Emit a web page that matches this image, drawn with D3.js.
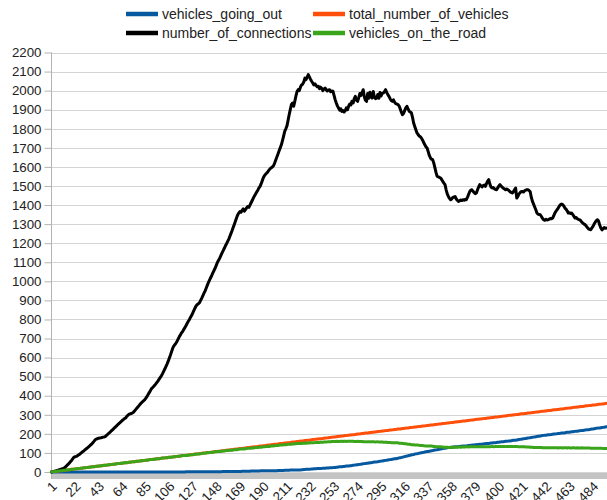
<!DOCTYPE html>
<html><head><meta charset="utf-8">
<script src="https://cdn.jsdelivr.net/npm/d3@7"></script>
<style>body{margin:0;background:#fff}svg{display:block;font-family:"Liberation Sans",Arial,sans-serif}</style>
</head><body><svg id="c" width="607" height="500"></svg>
<script>
const N = 496;
const categories = d3.range(1, N + 1);
const tickLabels = ["1","22","43","64","85","106","127","148","169","190","211","232","253","274","295","316","337","358","379","400","421","442","463","484"];
const yTicks = [0,100,200,300,400,500,600,700,800,900,1000,1100,1200,1300,1400,1500,1600,1700,1800,1900,2000,2100,2200];
const seriesNames = ["vehicles_going_out","total_number_of_vehicles","number_of_connections","vehicles_on_the_road"];
const seriesColors = ["#07599f","#ff4f0a","#000000","#3aa41a"];

const vehiclesGoingOut = [
0,0,0,0,0,0,0,0,0,0, 0,0,0,0,0,0,0,0,0,0, 0,0,0,0,0,0,0,0,0,0, 0,0,0,0,0,0,0,0,0,0,
0,0,0,0,0,0,0,0,0,0, 0,0,0,0,0,0,0,0,0,0, 0,0,0,0,0,0,0,0,0,0, 0,0,0,0,0,0,0,0,0,0,
0,0,0,0,0,0,0,0,0,0, 0,0,0,0,0,0,0,0,0,0, 0,0,0,0,0,0,0,0,0,0, 0,0,0,0,0,0,0,0,0,0,
1,1,1,1,1,1,1,1,1,1, 1,1,1,1,1,1,1,1,1,1, 1,1,1,1,1,1,1,1,1,1,
1,1,2,2,2,2,2,2,2,2, 2,3,3,3,3,3,3,3,3,3, 4,4,4,4,4,4,4,4,5,5, 5,5,5,5,5,5,6,6,6,6,
6,6,6,6,7,7,7,7,7,7, 7,7,8,8,8,8,8,8,9,9, 9,9,9,10,10,10,10,10,11,11, 11,11,11,12,12,13,13,14,14,15,
15,15,16,16,17,17,17,18,18,19, 19,19,20,20,20,21,21,21,22,22, 22,23,23,24,25,25,26,27,27,28,
29,29,30,31,31,32,33,33,34,35, 36,37,38,38,39,40,41,42,43,44, 45,46,46,47,48,49,50,51,52,53,
53,54,55,56,57,58,59,60,61,62, 63,64,65,66,67,68,69,70,71,72, 74,75,76,78,79,81,82,84,85,87,
88,90,91,92,94,95,96,97,99,100, 101,102,103,105,106,107,108,109,110,111, 112,114,115,116,117,118,119,120,122,123,
124,125,126,127,128,129,129,130,131,131, 132,132,133,133,134,135,135,136,136,137, 137,138,139,139,140,141,141,142,143,143,
144,144,145,146,146,147,148,148,149,150, 150,151,152,152,153,154,154,155,156,156, 157,158,158,159,160,161,161,162,163,163,
164,165,166,166,167,168,169,170,171,172, 173,174,175,176,177,178,179,180,181,182, 183,184,185,186,187,188,189,190,191,192,
193,193,194,195,196,196,197,198,199,199, 200,201,202,202,203,204,205,205,206,207, 208,208,209,210,211,211,212,213,214,214,
215,216,217,217,218,219,220,221,221,222, 223,224,225,226,227,228,229,230,231,231, 232,233,234,235,236,237
];

const totalNumberOfVehicles = [
1,1,2,3,4,4,5,6,7,7, 8,9,9,10,11,12,12,13,14,15, 15,16,17,17,18,19,20,20,21,22, 22,23,24,25,25,26,27,28,28,29,
30,30,31,32,33,33,34,35,36,36, 37,38,38,39,40,41,41,42,43,44, 44,45,46,46,47,48,49,49,50,51, 51,52,53,54,54,55,56,57,57,58,
59,59,60,61,62,62,63,64,65,65, 66,67,67,68,69,70,70,71,72,73, 73,74,75,75,76,77,78,78,79,80, 80,81,82,83,83,84,85,86,86,87,
88,88,89,90,91,91,92,93,94,94, 95,96,96,97,98,99,99,100,101,102, 102,103,104,104,105,106,107,107,108,109, 109,110,111,112,112,113,114,115,115,116,
117,117,118,119,120,120,121,122,123,123, 124,125,125,126,127,128,128,129,130,131, 131,132,133,133,134,135,136,136,137,138, 138,139,140,141,141,142,143,144,144,145,
146,146,147,148,149,149,150,151,152,152, 153,154,154,155,156,157,157,158,159,160, 160,161,162,162,163,164,165,165,166,167, 167,168,169,170,170,171,172,173,173,174,
175,175,176,177,178,178,179,180,181,181, 182,183,183,184,185,186,186,187,188,189, 189,190,191,191,192,193,194,194,195,196, 196,197,198,199,199,200,201,202,202,203,
204,204,205,206,207,207,208,209,210,210, 211,212,212,213,214,215,215,216,217,218, 218,219,220,220,221,222,223,223,224,225, 225,226,227,228,228,229,230,231,231,232,
233,233,234,235,236,236,237,238,239,239, 240,241,241,242,243,244,244,245,246,247, 247,248,249,249,250,251,252,252,253,254, 254,255,256,257,257,258,259,260,260,261,
262,262,263,264,265,265,266,267,268,268, 269,270,270,271,272,273,273,274,275,276, 276,277,278,278,279,280,281,281,282,283, 283,284,285,286,286,287,288,289,289,290,
291,291,292,293,294,294,295,296,297,297, 298,299,299,300,301,302,302,303,304,305, 305,306,307,307,308,309,310,310,311,312, 312,313,314,315,315,316,317,318,318,319,
320,320,321,322,323,323,324,325,326,326, 327,328,328,329,330,331,331,332,333,334, 334,335,336,336,337,338,339,339,340,341, 341,342,343,344,344,345,346,347,347,348,
349,349,350,351,352,352,353,354,355,355, 356,357,357,358,359,360
];

const numberOfConnections = [
0,2,3,5,6,8,10,12,14,16, 18,20,24,30,36,42,48,55,62,70,
78,80,82,85,89,93,98,103,108,112, 117,122,127,132,137,143,148,155,162,170,
172,176,177,178,179,181,183,184,186,192, 197,203,208,214,219,225,231,236,242,248,
253,259,264,270,275,280,283,291,297,302, 305,307,309,313,320,327,334,341,348,355,
362,368,373,378,386,395,405,415,425,436, 442,448,455,462,470,478,487,496,505,516,
528,540,553,566,580,596,612,630,648,660, 668,676,686,698,710,720,730,738,748,758,
768,780,790,800,812,822,835,848,860,872, 878,882,888,900,912,925,938,950,965,980,
995,1008,1020,1032,1045,1058,1070,1085,1100,1110, 1122,1135,1148,1160,1172,1185,1196,1208,1220,1235,
1250,1265,1282,1298,1315,1332,1348,1358,1366,1362, 1372,1380,1368,1376,1385,1392,1388,1400,1412,1424,
1436,1448,1458,1468,1478,1490,1498,1512,1528,1545, 1555,1562,1568,1575,1584,1590,1596,1600,1606,1620,
1636,1652,1668,1685,1700,1716,1738,1762,1786,1800, 1815,1845,1875,1902,1928,1935,1918,1944,1972,1995,
2005,2000,2018,2030,2034,2045,2066,2058,2070,2084, 2072,2060,2049,2040,2030,2036,2028,2020,2023,2010,
2018,2012,2000,2008,2014,2005,1998,2004,2005,1994, 1998,1997,1975,1953,1935,1920,1909,1898,1905,1891,
1896,1888,1895,1910,1900,1918,1930,1925,1944,1935, 1958,1970,1950,1944,1962,1985,1975,1990,2005,1968,
1950,1944,1985,1960,1992,1970,1961,1995,1965,1958, 1961,1980,1960,1990,1972,1985,1988,1995,2005,1990,
1979,1970,1958,1948,1944,1952,1940,1932,1930,1927, 1920,1905,1888,1874,1880,1895,1910,1918,1905,1892,
1888,1883,1860,1830,1812,1795,1778,1770,1762,1758, 1751,1740,1728,1716,1705,1699,1680,1660,1647,1640,
1638,1620,1595,1570,1550,1548,1545,1542,1534,1524, 1515,1507,1480,1458,1445,1435,1428,1432,1440,1442,
1445,1432,1425,1419,1422,1426,1424,1428,1425,1430, 1428,1440,1455,1470,1478,1480,1472,1465,1460,1463,
1480,1495,1507,1500,1495,1502,1505,1498,1512,1525, 1533,1510,1495,1489,1492,1486,1482,1480,1490,1500,
1507,1500,1494,1488,1485,1480,1484,1480,1476,1470, 1466,1463,1470,1480,1489,1437,1445,1458,1465,1471,
1471,1468,1475,1478,1480,1480,1476,1470,1440,1419, 1405,1390,1375,1358,1352,1350,1349,1340,1330,1323,
1320,1325,1322,1323,1326,1330,1328,1332,1345,1358, 1368,1375,1385,1395,1402,1405,1402,1395,1384,1378,
1370,1358,1360,1356,1358,1350,1340,1332,1335,1328, 1325,1323,1318,1310,1305,1300,1297,1290,1282,1275,
1272,1270,1280,1288,1300,1310,1318,1323,1315,1295, 1280,1270,1275,1282,1278,1279
];

const vehiclesOnTheRoad = [
1,1,2,3,4,4,5,6,7,7, 8,9,9,10,11,12,12,13,14,15, 15,16,17,17,18,19,20,20,21,22, 22,23,24,25,25,26,27,28,28,29,
30,30,31,32,33,33,34,35,36,36, 37,38,38,39,40,41,41,42,43,44, 44,45,46,46,47,48,49,49,50,51, 51,52,53,54,54,55,56,57,57,58,
59,59,60,61,62,62,63,64,65,65, 66,67,67,68,69,70,70,71,72,73, 73,74,75,75,76,77,78,78,79,80, 80,81,82,83,83,84,85,86,86,87,
87,87,88,89,90,90,91,92,93,93, 94,95,95,96,97,98,98,99,100,101, 101,102,103,103,104,105,106,106,107,108, 108,109,109,110,110,111,112,113,113,114,
115,114,115,116,117,117,118,119,120,120, 120,121,121,122,123,124,124,125,125,126, 126,127,128,128,129,130,130,130,131,132, 132,133,134,135,134,135,136,137,137,138,
139,139,139,140,141,141,142,143,143,143, 144,145,145,145,146,147,147,148,148,149, 149,150,151,150,151,151,152,151,152,152, 152,153,153,154,153,154,155,155,155,155,
156,156,156,157,158,157,158,159,159,159, 160,160,160,160,160,161,160,160,161,161, 160,161,161,160,161,161,161,161,161,161, 160,160,160,161,160,160,160,160,159,159,
159,158,159,159,159,158,158,158,158,157, 158,158,157,157,157,157,156,156,156,156, 155,155,155,154,154,154,154,153,153,153, 151,151,151,150,149,148,148,147,146,145,
145,143,143,143,142,141,141,141,140,139, 139,139,138,137,137,137,136,136,136,136, 135,134,134,133,133,133,133,132,131,131, 130,130,130,130,129,129,130,130,129,130,
130,130,130,131,131,130,131,131,132,131, 132,132,131,132,132,132,132,132,132,133, 132,133,133,132,133,133,133,133,133,133, 133,133,133,134,133,133,134,134,133,134,
134,133,134,134,134,133,134,134,134,134, 134,134,133,134,134,134,133,133,133,133, 132,132,132,131,131,131,131,130,130,130, 129,129,129,129,128,128,128,128,127,127,
127,127,127,127,127,127,127,127,127,127, 127,127,126,127,127,127,126,127,127,127, 126,127,127,126,126,127,127,126,126,127, 126,126,126,127,126,126,126,126,126,126,
126,125,125,125,125,124,124,124,124,124, 124,124,123,123,123,123
];

const series = [vehiclesGoingOut, totalNumberOfVehicles, numberOfConnections, vehiclesOnTheRoad];

const svg = d3.select("#c");
const plotLeft = 51, plotRight = 607, plotTop = 52.5, plotBottom = 472;

const x = d3.scaleBand().domain(categories).range([plotLeft, plotRight]);
const cx = c => x(c) + x.bandwidth() / 2;
const y = d3.scaleLinear().domain([0, 2200]).range([plotBottom, plotTop]);

// gridlines
svg.append("g").selectAll("line").data(yTicks).join("line")
  .attr("x1", plotLeft).attr("x2", plotRight)
  .attr("y1", d => Math.round(y(d)) + 0.5).attr("y2", d => Math.round(y(d)) + 0.5)
  .attr("stroke", "#d4d4d4").attr("stroke-width", 1);

// floor band
svg.append("rect").attr("x", plotLeft).attr("y", plotBottom + 1).attr("width", plotRight - plotLeft).attr("height", 6)
  .attr("fill", "#c4c4c4");

// y axis
const yAxis = d3.axisLeft(y).tickValues(yTicks).tickSize(7).tickPadding(3).tickFormat(d3.format("d"));
const gy = svg.append("g").attr("transform", `translate(${plotLeft + 0.5},0)`).call(yAxis);
gy.select(".domain").attr("stroke", "#b3b3b3").attr("d", `M0,${plotTop}V${plotBottom + 7}`);
gy.selectAll(".tick line").attr("stroke", "#b3b3b3");
gy.selectAll(".tick text").attr("font-size", 13.3).attr("fill", "#222").attr("font-family", "Liberation Sans, Arial, sans-serif");

// x labels
const tickCats = tickLabels.map(Number);
svg.append("g").selectAll("text").data(tickCats).join("text")
  .attr("transform", d => `translate(${cx(d) + 3},${plotBottom + 12}) rotate(-45)`)
  .attr("text-anchor", "end").attr("dy", "0.35em")
  .attr("font-size", 13.3).attr("fill", "#222")
  .text((d, i) => tickLabels[i]);

// lines
const line = d3.line().x((d, i) => cx(categories[i])).y(d => y(d));
series.forEach((s, k) => {
  svg.append("path").datum(s).attr("d", line)
    .attr("fill", "none").attr("stroke", seriesColors[k]).attr("stroke-width", 3)
    .attr("stroke-linejoin", "round").attr("stroke-linecap", "round");
});

// legend
const legendPos = [[126, 14], [313, 14], [126, 33], [313, 33]];
const lg = svg.append("g").selectAll("g").data(seriesNames).join("g")
  .attr("transform", (d, i) => `translate(${legendPos[i][0]},${legendPos[i][1]})`);
lg.append("line").attr("x1", 0).attr("x2", 32).attr("y1", 0).attr("y2", 0)
  .attr("stroke", (d, i) => seriesColors[i]).attr("stroke-width", 4.5);
lg.append("text").attr("x", 36).attr("dy", "0.35em").attr("font-size", 14).attr("fill", "#222").text(d => d);
</script>
</body></html>
